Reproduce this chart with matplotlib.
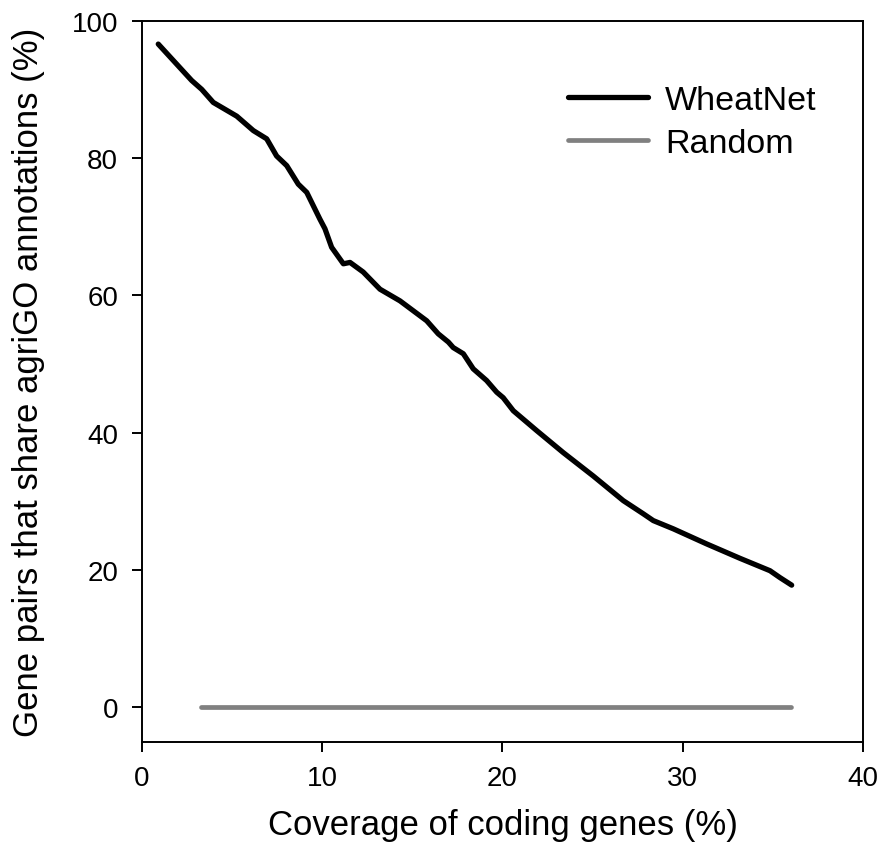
#!/usr/bin/env python3

import matplotlib
matplotlib.use("Agg")
import matplotlib.pyplot as plt

plt.rcParams["font.family"] = ["Liberation Sans", "DejaVu Sans"]

# WheatNet curve
coverage = [0.92, 2.77, 3.33, 3.97, 5.27, 6.19, 6.93, 7.48, 8.04, 8.68, 9.15,
            9.88, 10.16, 10.53, 11.18, 11.55, 12.28, 13.21, 14.32, 15.80,
            16.44, 17.0, 17.27, 17.83, 18.38, 19.12, 19.68, 20.04, 20.6,
            21.9, 23.37, 25.03, 26.7, 27.8, 28.36, 29.47, 31.32, 33.17,
            34.83, 35.38, 36.03]
wheatnet = [96.6, 91.3, 90.0, 88.1, 86.1, 84.0, 82.8, 80.3, 78.9, 76.2, 75.0,
            71.1, 69.7, 67.0, 64.6, 64.8, 63.4, 60.9, 59.2, 56.3,
            54.4, 53.2, 52.4, 51.5, 49.3, 47.6, 45.9, 45.1, 43.2,
            40.3, 37.1, 33.7, 30.1, 28.2, 27.2, 26.0, 23.8, 21.7,
            19.9, 18.9, 17.8]

# Random baseline
random_x = [3.3, 36.0]
random_y = [0.0, 0.0]

fig = plt.figure(figsize=(8.81, 8.62), dpi=100)
ax = fig.add_axes([0.1608, 0.1384, 0.8191, 0.8364])

ax.plot(coverage, wheatnet, color="black", linewidth=3.8,
        solid_capstyle="round", solid_joinstyle="round", label="WheatNet")
ax.plot(random_x, random_y, color="#808080", linewidth=3.4,
        solid_capstyle="round", label="Random")

ax.set_xlim(0, 40)
ax.set_ylim(-5, 100)
ax.set_xticks([0, 10, 20, 30, 40])
ax.set_yticks([0, 20, 40, 60, 80, 100])

for s in ax.spines.values():
    s.set_linewidth(1.4)
ax.tick_params(direction="out", length=7.2, width=1.4, labelsize=20,
               top=False, right=False)
ax.tick_params(axis="x", pad=9.5)
ax.tick_params(axis="y", pad=9.7)

ax.set_xlabel("Coverage of coding genes (%)", fontsize=25, labelpad=12)
ax.set_ylabel("Gene pairs that share agriGO annotations (%)", fontsize=25,
              labelpad=19)

ax.legend(loc="upper right", bbox_to_anchor=(0.978, 0.953), frameon=False,
          fontsize=24.5, handlelength=2.35, handletextpad=0.5,
          labelspacing=0.35)

fig.savefig("out.png", dpi=100)
plt.close()
